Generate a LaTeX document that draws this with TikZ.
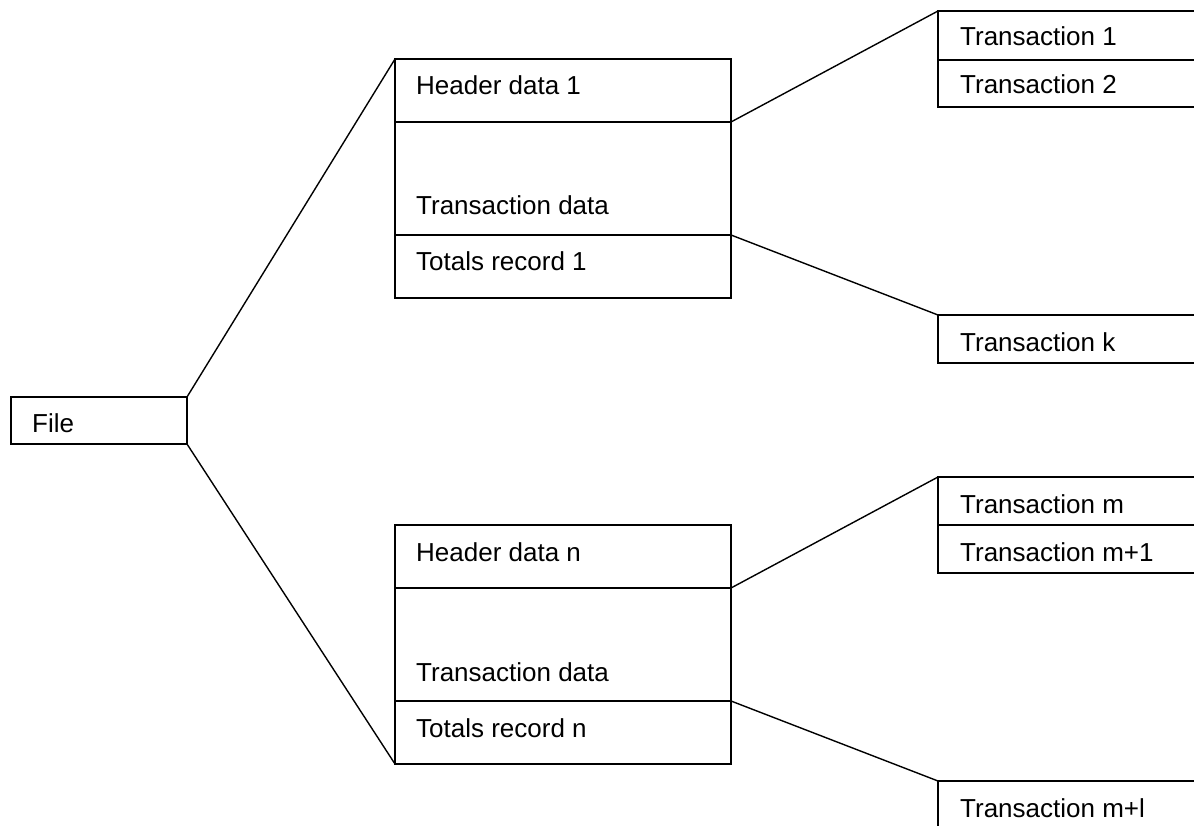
\documentclass[tikz,border=0pt]{standalone}
\usepackage{fontspec}
\setmainfont{Liberation Sans}
\begin{document}
\begin{tikzpicture}[x=1pt,y=-1pt,
  cell/.style={draw, line width=1.4pt, rectangle, inner sep=0pt, outer sep=0pt, anchor=north west},
  lbl/.style={anchor=base west, inner sep=0pt, font=\fontsize{26}{30}\selectfont},
  link/.style={line width=1.4pt}]
\useasboundingbox (0,0) rectangle (1194,826);
\clip (0,0) rectangle (1194,826);

% file
\node[cell, minimum width=176pt, minimum height=47pt] (file) at (11,397) {};
\node[lbl] (fileL) at (32,432) {File};

% first batch of records
\node[cell, minimum width=336pt, minimum height=63pt]  (hdr1) at (395,59)  {};
\node[cell, minimum width=336pt, minimum height=113pt] (txd1) at (395,122) {};
\node[cell, minimum width=336pt, minimum height=63pt]  (tot1) at (395,235) {};
\node[lbl] (hdr1L) at (416,95)  {Header data 1};
\node[lbl] (txd1L) at (416,215) {Transaction data};
\node[lbl] (tot1L) at (416,271) {Totals record 1};

\node[cell, minimum width=270pt, minimum height=49pt] (t1) at (938,11)  {};
\node[cell, minimum width=270pt, minimum height=47pt] (t2) at (938,60)  {};
\node[cell, minimum width=270pt, minimum height=48pt] (tk) at (938,315) {};
\node[lbl] (t1L) at (960,46)  {Transaction 1};
\node[lbl] (t2L) at (960,94)  {Transaction 2};
\node[lbl] (tkL) at (960,351) {Transaction k};

% last batch of records
\node[cell, minimum width=336pt, minimum height=63pt]  (hdrn) at (395,525) {};
\node[cell, minimum width=336pt, minimum height=113pt] (txdn) at (395,588) {};
\node[cell, minimum width=336pt, minimum height=63pt]  (totn) at (395,701) {};
\node[lbl] (hdrnL) at (416,561) {Header data n};
\node[lbl] (txdnL) at (416,681) {Transaction data};
\node[lbl] (totnL) at (416,737) {Totals record n};

\node[cell, minimum width=270pt, minimum height=48pt] (tm)  at (938,477) {};
\node[cell, minimum width=270pt, minimum height=48pt] (tm1) at (938,525) {};
\node[cell, minimum width=270pt, minimum height=60pt] (tml) at (938,781) {};
\node[lbl] (tmL)  at (960,513) {Transaction m};
\node[lbl] (tm1L) at (960,561) {Transaction m+1};
\node[lbl] (tmlL) at (960,817) {Transaction m+l};

% connectors
\draw[link] (file.north east) -- (hdr1.north west);
\draw[link] (file.south east) -- (totn.south west);
\draw[link] (txd1.north east) -- (t1.north west);
\draw[link] (tot1.north east) -- (tk.north west);
\draw[link] (txdn.north east) -- (tm.north west);
\draw[link] (totn.north east) -- (tml.north west);
\end{tikzpicture}
\end{document}
